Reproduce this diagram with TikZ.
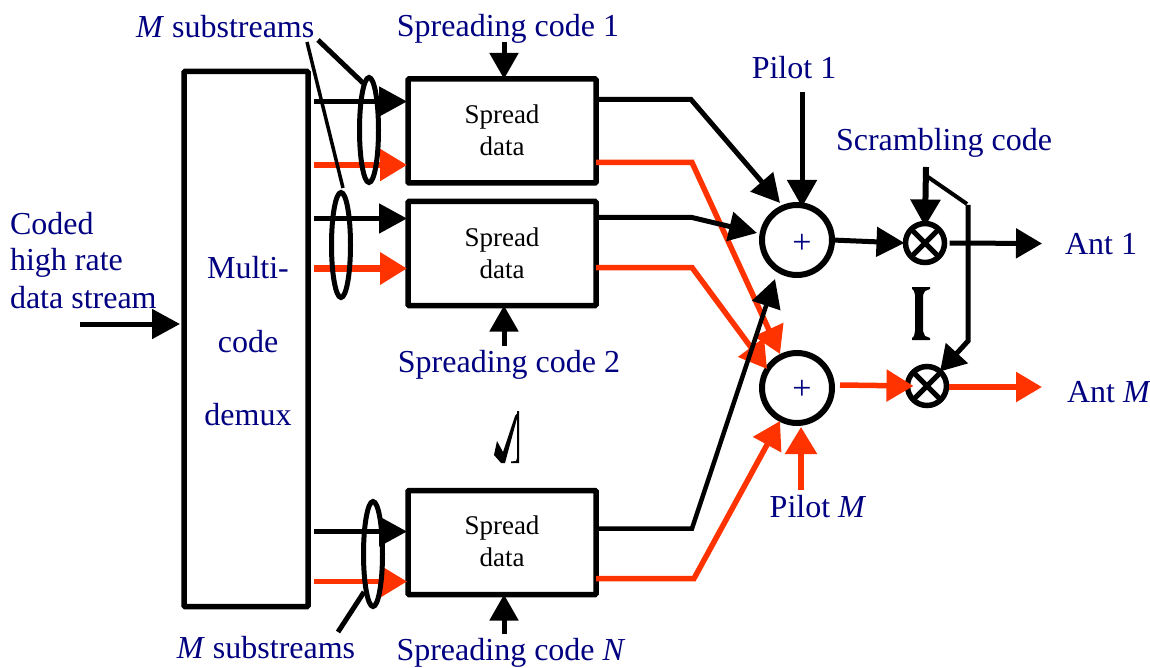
\documentclass[tikz,border=0pt]{standalone}
\usepackage{fontspec}
\setmainfont{Liberation Serif}
\usetikzlibrary{arrows.meta,calc}
\definecolor{navytext}{RGB}{0,0,128}
\definecolor{redline}{RGB}{255,51,0}
\tikzset{
  lbl/.style={text=navytext,font=\fontsize{32}{36}\selectfont,inner sep=0pt,outer sep=0pt},
  boxs/.style={draw=black,line width=5.5pt,rectangle,outer sep=0pt,inner sep=0pt,rounded corners=1pt},
  spreadbox/.style={boxs,minimum width=188pt,minimum height=104pt,align=center,font=\fontsize{27}{32}\selectfont},
  sumc/.style={draw=black,line width=6pt,circle,minimum size=70pt,inner sep=0pt,outer sep=0pt},
  mulc/.style={draw=black,line width=5.5pt,circle,minimum size=39pt,inner sep=0pt,outer sep=0pt},
  plusl/.style={text=navytext,font=\fontsize{34}{36}\selectfont,inner sep=0pt,outer sep=0pt},
  blk/.style={line width=5pt,draw=black,-{Triangle[length=28pt,width=29pt]}},
  rd/.style={line width=5.5pt,draw=redline,-{Triangle[length=27pt,width=31pt]}},
  ovalp/.style={line width=5pt,draw=black},
}
\begin{document}
\begin{tikzpicture}[x=1pt,y=-1pt]
\useasboundingbox[fill=white] (0,0) rectangle (1150,668);
% boxes
\node[boxs,minimum width=124pt,minimum height=535pt] (demux) at (246,339) {};
\node[spreadbox] (s1) at (502,131) {\raisebox{2pt}{Spread}\\\raisebox{2pt}{data}};
\node[spreadbox] (s2) at (502,253.5) {\raisebox{1pt}{Spread}\\\raisebox{1pt}{data}};
\node[spreadbox] (sN) at (502,542.5) {\raisebox{2pt}{Spread}\\\raisebox{2pt}{data}};
\node[sumc] (p1) at (797,240) {};
\node[sumc] (p2) at (797,388) {};
\node[mulc] (m1) at (925,243) {};
\node[mulc] (m2) at (927,386) {};
\node[plusl] (plus1) at (802,244) {+};
\node[plusl] (plus2) at (802,390) {+};
\draw[line width=5pt] (m1.45)--(m1.225) (m1.135)--(m1.315);
\draw[line width=5pt] (m2.45)--(m2.225) (m2.135)--(m2.315);
% free ends
\coordinate (d1a) at (314,101.5); \coordinate (d1b) at (314,165);
\coordinate (d2a) at (314,218.5); \coordinate (d2b) at (314,268.5);
\coordinate (dNa) at (314,531.5); \coordinate (dNb) at (314,581.5);
\coordinate (in) at (80,324);
\coordinate (c1) at (504,42); \coordinate (c2) at (504,346); \coordinate (cN) at (504,634);
\coordinate (pil1) at (802,92); \coordinate (pilM) at (801,490);
\coordinate (scr) at (926,167); \coordinate (sb1) at (928,177); \coordinate (sb2) at (967,204); \coordinate (sb3) at (968,205); \coordinate (sb4) at (968,341);
\coordinate (t1) at (1042,243.5); \coordinate (t2) at (1042,387);
% inputs to spread boxes
\draw[blk] (d1a) -- ([xshift=-1pt]d1a -| s1.west);
\draw[rd] (d1b) -- ([xshift=-1pt]d1b -| s1.west);
\draw[blk] (d2a) -- ([xshift=-1pt]d2a -| s2.west);
\draw[rd,line width=7pt] (d2b) -- ([xshift=-1pt]d2b -| s2.west);
\draw[blk] (dNa) -- ([xshift=-1pt]dNa -| sN.west);
\draw[rd] (dNb) -- ([xshift=-1pt]dNb -| sN.west);
\draw[blk] (in) -- ([xshift=-4pt]in -| demux.west);
% codes
\draw[blk,-{Triangle[length=26pt,width=28pt]}] (c1) -- (c1 |- s1.north);
\draw[blk,-{Triangle[length=26pt,width=28pt]}] (c2) -- (c2 |- s2.south);
\draw[blk,-{Triangle[length=26pt,width=28pt]}] (cN) -- (cN |- sN.south);
% ovals
\draw[ovalp] (369,130) ellipse [x radius=9.5, y radius=52.5];
\draw[ovalp] (341,245) ellipse [x radius=9.5, y radius=52.5];
\draw[ovalp] (373,554) ellipse [x radius=9.5, y radius=52.5];
% outputs
\coordinate (j1a) at (691,99.5); \coordinate (j1b) at (692,162.5);
\coordinate (j2a) at (692,217.5); \coordinate (j2b) at (692,267.5);
\coordinate (jNa) at (692,528.5); \coordinate (jNb) at (694,578.5);
\coordinate (e1) at (780,203); \coordinate (e2) at (757,233); \coordinate (eN) at (775,279);
\coordinate (f1) at (780,354); \coordinate (f2) at (767,369); \coordinate (fN) at (780,421);
\draw[blk] (s1.east |- j1a) -- (j1a) -- (e1);
\draw[rd] (s1.east |- j1b) -- (j1b) -- (f1);
\draw[blk] (s2.east |- j2a) -- (j2a) -- (e2);
\draw[rd] (s2.east |- j2b) -- (j2b) -- (f2);
\draw[blk,line width=4.5pt] (sN.east |- jNa) -- (jNa) -- (eN);
\draw[rd] (sN.east |- jNb) -- (jNb) -- (fN);
% pilots
\draw[blk,-{Triangle[length=27pt,width=29pt]}] (pil1) -- ([yshift=-2pt]pil1 |- p1.north);
\draw[rd,-{Triangle[length=27pt,width=31pt]}] (pilM) -- ([yshift=-4pt]pilM |- p2.south);
% sum to mult
\draw[blk] (p1.east) -- ([xshift=-1pt]m1.west);
\draw[rd] ($(p2.east)+(8,-3)$) -- ($(m2.west)+(6,0)$);
% scrambling
\draw[line width=6pt,-{Triangle[length=27pt,width=29pt]}] (scr) -- ([yshift=-3pt]m1.north);
\draw[line width=4pt] (sb1) -- (sb2);
\draw[line width=5pt,-{Triangle[length=25pt,width=29pt]}] (sb3) -- (sb4) -- (m2.48);
% mult outputs
\draw[blk,-{Triangle[length=26pt,width=29pt]}] ($(m1.east)+(5,0)$) -- (t1);
\draw[rd,-{Triangle[length=26pt,width=29pt]}] ($(m2.east)+(2,1)$) -- (t2);
% label pointers
\coordinate (ms1) at (318,40); \coordinate (ms2) at (307,42); \coordinate (msb) at (338,632);
\draw[line width=5pt] (ms1) -- (363,83);
\draw[line width=3.5pt] (ms2) -- (343,188);
\draw[line width=5pt] (msb) -- (364,592);
% ellipsis glyphs
\fill (494,455) -- (497,441) -- (503,452) -- (515,416) -- (519,411) -- (505,463) -- (501,463) -- cycle;
\fill (517,411) -- (519,411) -- (519,463) -- (511,463) -- (511,461.5) -- (516,461) -- (517,458) -- cycle;
\fill (912,287) -- (930,287) -- (930,289) -- (925,291) -- (923,295) -- (923,331) -- (925,336) -- (930,338) -- (930,340) -- (912,340) -- (912,338) -- (914,336) -- (915,331) -- (915,295) -- (914,291) -- (912,289) -- cycle;
% text
\node[lbl,anchor=base] (t_d1) at (248,278) {Multi-};
\node[lbl,anchor=base] (t_d2) at (248,352) {code};
\node[lbl,anchor=base] (t_d3) at (248,425) {demux};
\node[lbl,anchor=west] (t_ms1) at (136,27) {\textit{M} substreams};
\node[lbl] (t_sc1) at (508,29) {Spreading code 1};
\node[lbl] (t_sc2) at (509,365) {Spreading code 2};
\node[lbl] (t_scN) at (511,653) {Spreading code \textit{N}};
\node[lbl] (t_p1) at (794,68) {Pilot 1};
\node[lbl] (t_pM) at (818,507) {Pilot \textit{M}};
\node[lbl] (t_scr) at (944,143) {Scrambling code};
\node[lbl,anchor=west] (t_a1) at (1065,244) {Ant 1};
\node[lbl,anchor=west] (t_aM) at (1067,392) {Ant \textit{M}};
\node[lbl] (t_msb) at (266,648) {\textit{M} substreams};
\node[lbl,anchor=west] (t_c1) at (10,224) {Coded};
\node[lbl,anchor=west] (t_c2) at (10,263) {high rate};
\node[lbl,anchor=west] (t_c3) at (10,298) {data stream};
\end{tikzpicture}
\end{document}
